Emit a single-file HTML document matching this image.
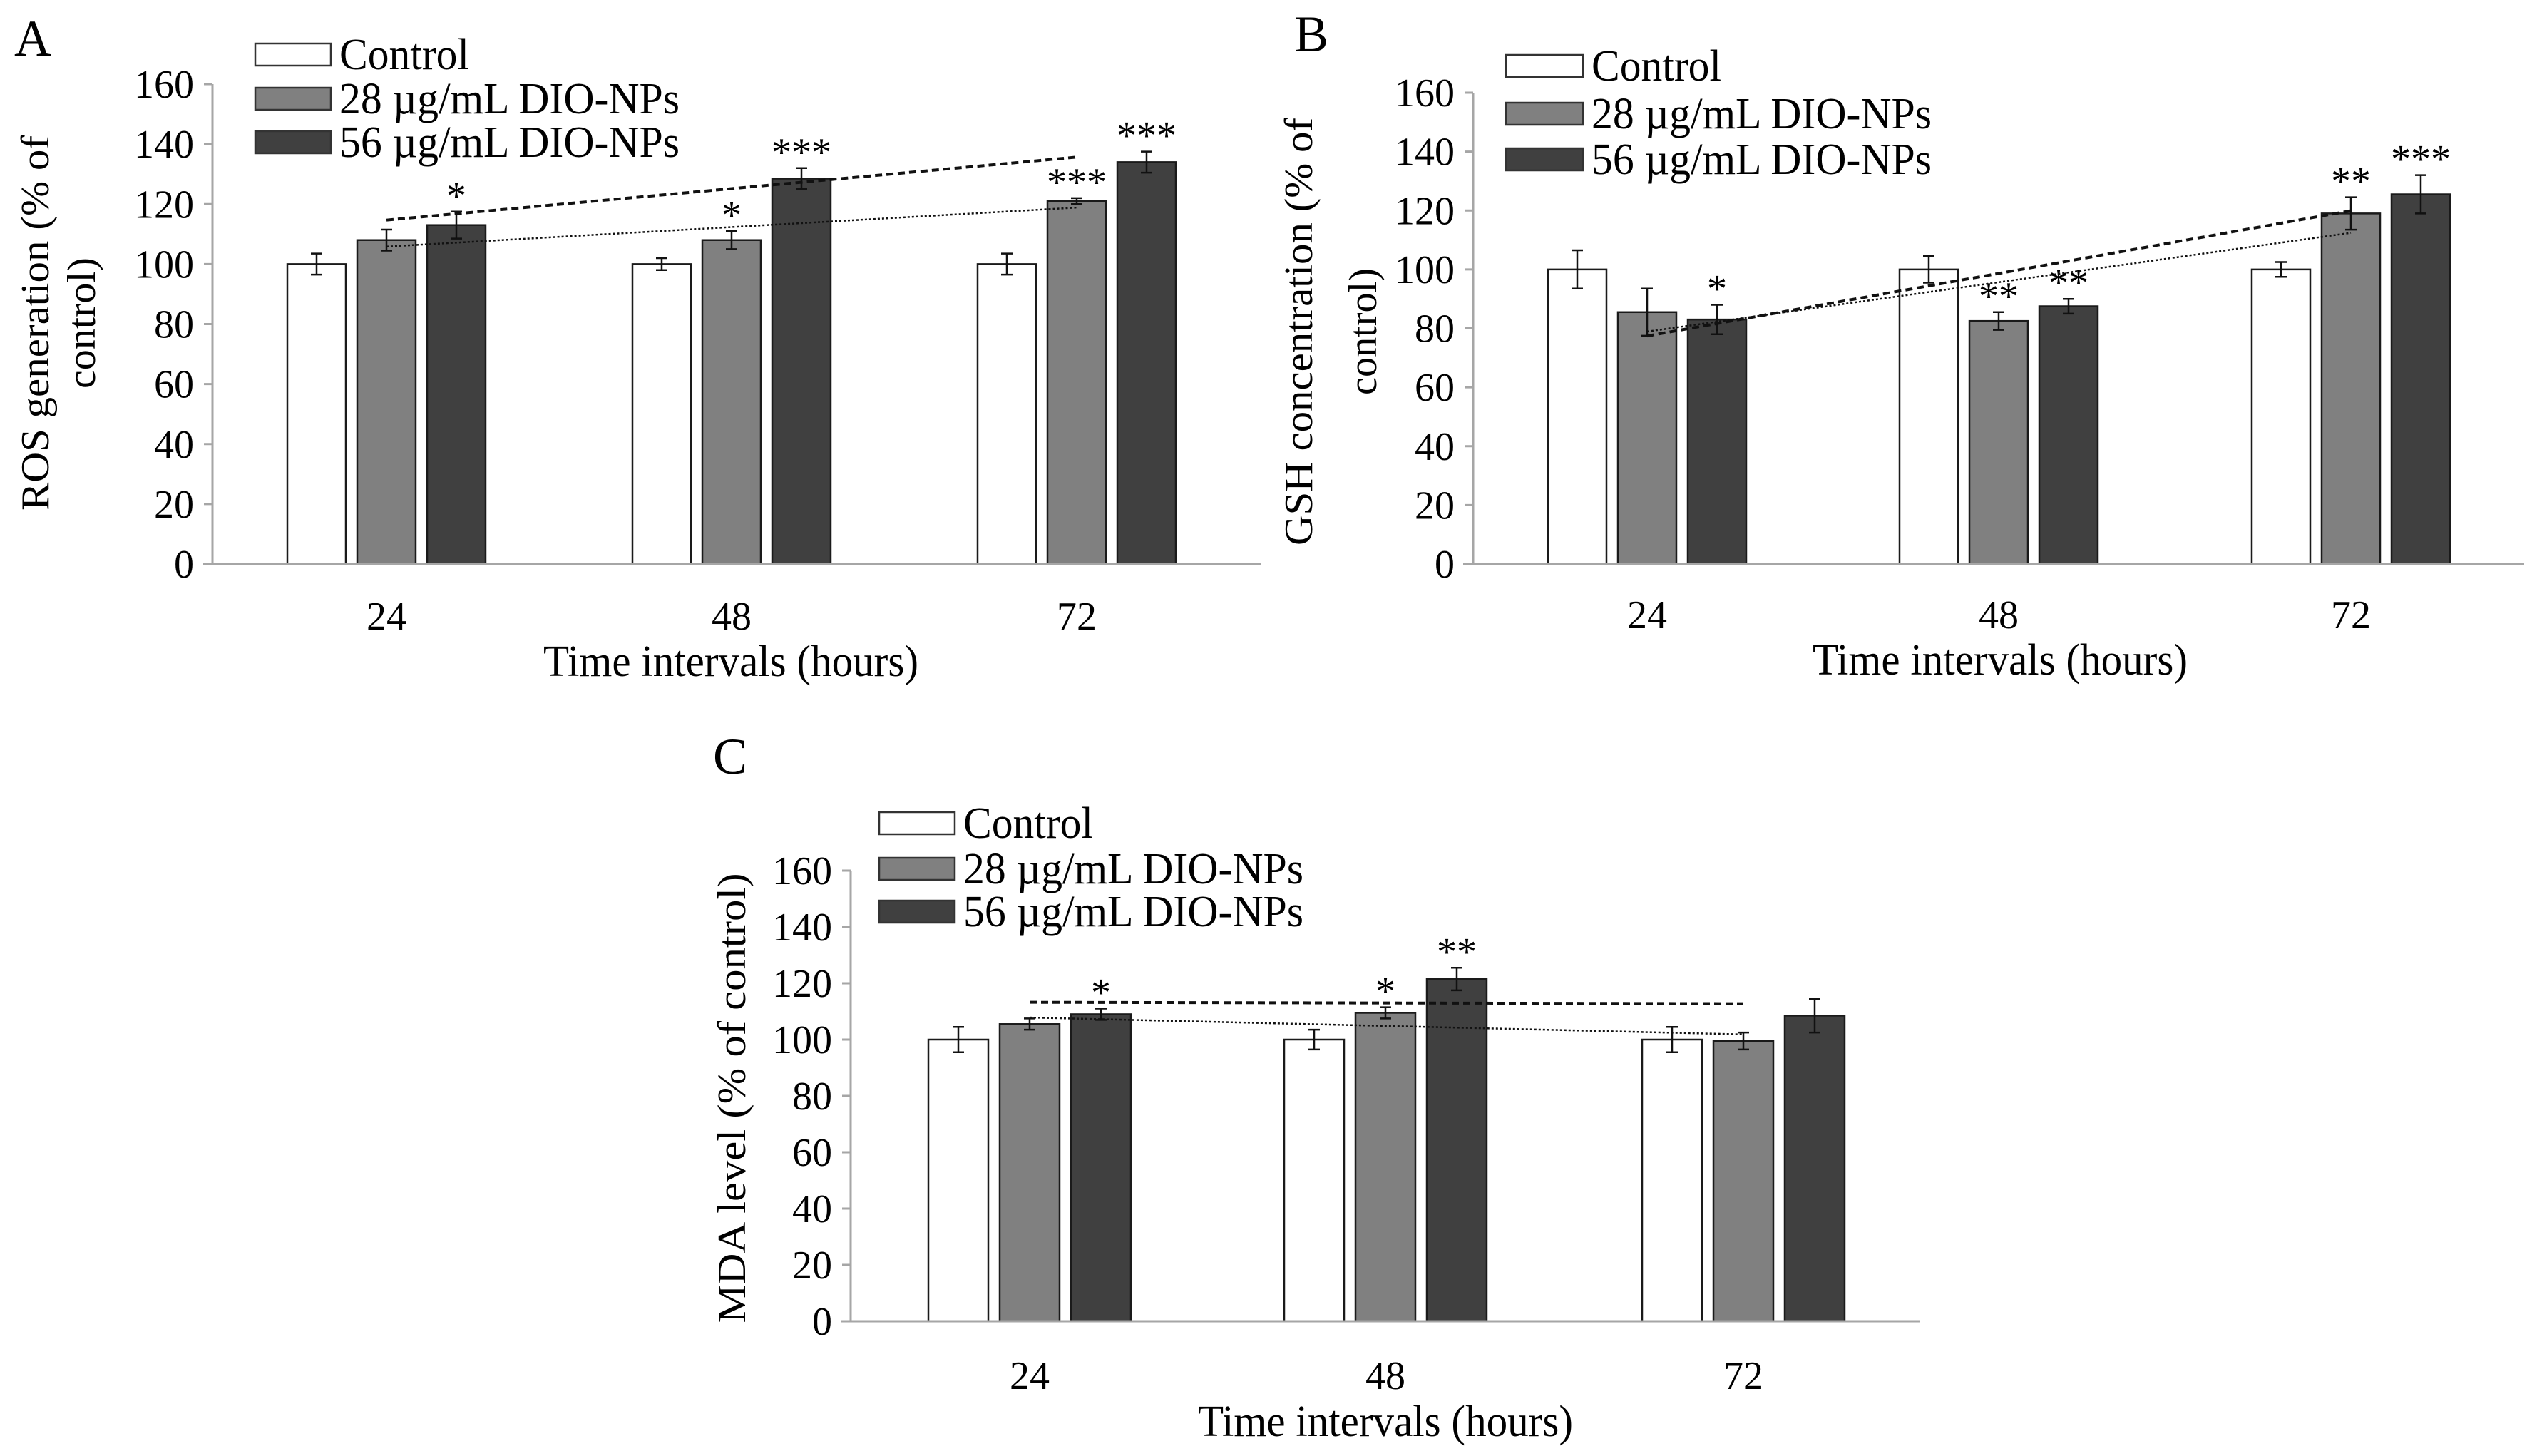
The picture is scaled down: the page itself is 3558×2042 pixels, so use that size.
<!DOCTYPE html>
<html><head><meta charset="utf-8">
<style>
html,body{margin:0;padding:0;background:#fff;}
svg{display:block;font-family:"Liberation Serif","Times New Roman",serif;}
</style></head>
<body>
<svg id="fig" width="3558" height="2042" viewBox="0 0 3558 2042" xmlns="http://www.w3.org/2000/svg"></svg>
<script>
// ---- data ----
const categories = ["24","48","72"];
const yTicks = [0,20,40,60,80,100,120,140,160];
const seriesNames = ["Control","28 µg/mL DIO-NPs","56 µg/mL DIO-NPs"];
// Panel A - ROS
const rosControl = [100,100,100];
const ros28 = [108,108,121];
const ros56 = [113,128.5,134];
const rosErrControl = [3.5,2,3.5];
const rosErr28 = [3.5,3,1];
const rosErr56 = [4.5,3.5,3.5];
const rosStars28 = ["","*","***"];
const rosStars56 = ["*","***","***"];
// Panel B - GSH
const gshControl = [100,100,100];
const gsh28 = [85.5,82.5,119];
const gsh56 = [83,87.5,125.5];
const gshErrControl = [6.5,4.5,2.5];
const gshErr28 = [8,3,5.5];
const gshErr56 = [5,2.5,6.5];
const gshStars28 = ["","**","**"];
const gshStars56 = ["*","**","***"];
// Panel C - MDA
const mdaControl = [100,100,100];
const mda28 = [105.5,109.5,99.5];
const mda56 = [109,121.5,108.5];
const mdaErrControl = [4.5,3.5,4.5];
const mdaErr28 = [2,2,3];
const mdaErr56 = [2,4,6];
const mdaStars28 = ["","*",""];
const mdaStars56 = ["*","**",""];

const NS="http://www.w3.org/2000/svg";
const svg=document.getElementById('fig');
function mk(tag,attrs,parent){const e=document.createElementNS(NS,tag);for(const k in attrs)e.setAttribute(k,attrs[k]);(parent||svg).appendChild(e);return e;}
function txt(s,attrs,parent){const e=mk('text',attrs,parent);e.textContent=s;return e;}

const fills=["#ffffff","#808080","#404040"];

function panel(p){
  const g=mk('g',{});
  
  
  const yScale=v=>p.y0-(v/160)*(p.y0-p.y160);
  const xScale=i=>p.cats[i];
  const L=txt(p.letter,{x:p.letterX,y:p.letterY,'font-size':72},g);
  
  
  const ya=mk('line',{x1:p.axisX,y1:p.y160,x2:p.axisX,y2:p.y0,stroke:'#a6a6a6','stroke-width':3},g);
  
  
  yTicks.forEach(t=>{
    const y=yScale(t);
    const tk=mk('line',{x1:p.axisX-12,y1:y,x2:p.axisX,y2:y,stroke:'#a6a6a6','stroke-width':3},g);
    
    
    const tl=txt(String(t),{x:p.axisX-26,y:y+19,'font-size':56,'text-anchor':'end'},g);
    
    
  });
  const vals=[p.control,p.s28,p.s56];
  const errs=[p.errC,p.err28,p.err56];
  const stars=[null,p.stars28,p.stars56];
  const offs=[-p.step,0,p.step];
  for(let s=0;s<3;s++){
    for(let i=0;i<categories.length;i++){
      const cx=xScale(i)+offs[s];
      const v=vals[s][i];
      const top=yScale(v);
      const b=mk('rect',{x:cx-p.bw/2,y:top,width:p.bw,height:p.y0-top,fill:fills[s],stroke:'#1a1a1a','stroke-width':2.5},g);
      
      
      const e=errs[s][i];
      const et=yScale(v+e), eb=yScale(v-e);
      const eg=mk('path',{d:`M${cx},${et}V${eb}M${cx-8},${et}H${cx+8}M${cx-8},${eb}H${cx+8}`,stroke:'#111','stroke-width':2.5,fill:'none'},g);
      
      
      if(stars[s]&&stars[s][i]){
        const st=txt(stars[s][i],{x:cx,y:et-4,'font-size':56,'text-anchor':'middle'},g);
        
        
      }
    }
  }
  function trend(arr,dash,w,name){
    const n=arr.length,mx=(n-1)/2,my=arr.reduce((a,b)=>a+b,0)/n;
    let num=0,den=0;arr.forEach((v,i)=>{num+=(i-mx)*(v-my);den+=(i-mx)*(i-mx);});
    const sl=num/den;
    const a=my-sl*mx,b=my+sl*mx;
    const ln=mk('line',{x1:xScale(0),y1:yScale(a),x2:xScale(n-1),y2:yScale(b),stroke:'#111','stroke-width':w,'stroke-dasharray':dash},g);
    
    
  }
  trend(p.s28,'3,3',2.5,p.id+'-trend-28');
  trend(p.s56,'10,6',4,p.id+'-trend-56');
  const xa=mk('line',{x1:p.axisX-14,y1:p.y0,x2:p.axisEnd,y2:p.y0,stroke:'#a6a6a6','stroke-width':3},g);
  
  
  categories.forEach((c,i)=>{
    const cl=txt(c,{x:xScale(i),y:p.catY,'font-size':56,'text-anchor':'middle'},g);
    
    
  });
  const xt=txt('Time intervals  (hours)',{x:p.xTitleX,y:p.xTitleY,'font-size':62,'text-anchor':'middle',textLength:526,lengthAdjust:'spacingAndGlyphs','xml:space':'preserve'},g);
  
  
  p.yTitle.forEach(t=>{
    const yt=txt(t.s,{x:0,y:0,'font-size':56,'text-anchor':'middle',textLength:t.len,lengthAdjust:'spacingAndGlyphs',transform:`translate(${t.x},${p.yTitleY}) rotate(-90)`},g);
    
    
  });
  p.legRows.forEach((ry,s)=>{
    const sw=mk('rect',{x:p.legX,y:ry-15,width:p.legW,height:31,fill:fills[s],stroke:'#333','stroke-width':2.5},g);
    
    
    const lt=txt(seriesNames[s],{x:p.legX+p.legW+12,y:ry+21,'font-size':62,textLength:s===0?182:477,lengthAdjust:'spacingAndGlyphs'},g);
    
    
  });
}

panel({id:'ros',letter:'A',letterX:20,letterY:78,axisX:298,y160:118,y0:791,axisEnd:1768,
  cats:[542,1026,1510],step:98,bw:82,
  control:rosControl,s28:ros28,s56:ros56,errC:rosErrControl,err28:rosErr28,err56:rosErr56,stars28:rosStars28,stars56:rosStars56,
  catY:883,xTitleX:1025,xTitleY:948,yTitleY:453,
  yTitle:[{s:'ROS generation  (% of',x:68,len:526},{s:'control)',x:133,len:184}],
  legX:358,legW:106,legRows:[76,138,199]});

panel({id:'gsh',letter:'B',letterX:1815,letterY:72,axisX:2066,y160:130,y0:791,axisEnd:3540,
  cats:[2310,2803,3297],step:98,bw:82,
  control:gshControl,s28:gsh28,s56:gsh56,errC:gshErrControl,err28:gshErr28,err56:gshErr56,stars28:gshStars28,stars56:gshStars56,
  catY:881,xTitleX:2805,xTitleY:946,yTitleY:465,
  yTitle:[{s:'GSH concentration  (% of',x:1840,len:600},{s:'control)',x:1930,len:178}],
  legX:2112,legW:108,legRows:[92,159,223]});

panel({id:'mda',letter:'C',letterX:1000,letterY:1085,axisX:1193,y160:1221,y0:1853,axisEnd:2693,
  cats:[1444,1943,2445],step:100,bw:84,
  control:mdaControl,s28:mda28,s56:mda56,errC:mdaErrControl,err28:mdaErr28,err56:mdaErr56,stars28:mdaStars28,stars56:mdaStars56,
  catY:1948,xTitleX:1943,xTitleY:2014,yTitleY:1540,
  yTitle:[{s:'MDA level (% of control)',x:1045,len:631}],
  legX:1233,legW:106,legRows:[1154,1218,1278]});
</script>
</body></html>
